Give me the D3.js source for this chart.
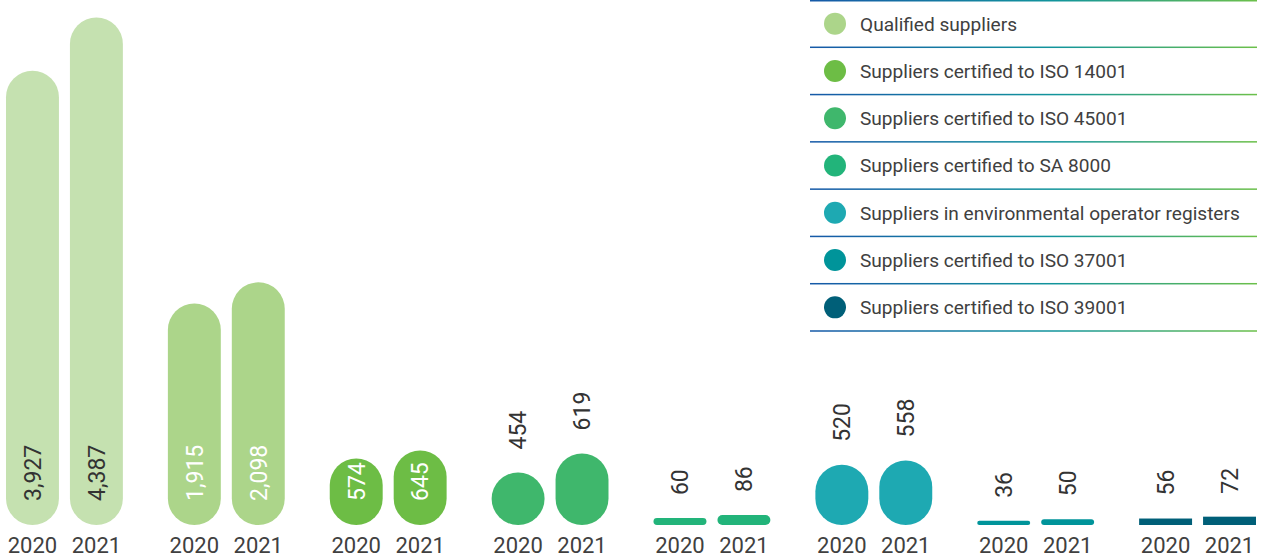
<!DOCTYPE html>
<html>
<head>
<meta charset="utf-8">
<script src="https://cdn.jsdelivr.net/npm/d3@7"></script>
<style>
  html, body { margin: 0; padding: 0; background: #ffffff; }
  svg { display: block; }
  text { font-family: Roboto, "DejaVu Sans", sans-serif; fill: #404040; }
</style>
</head>
<body>
<svg id="chart" width="1261" height="558"></svg>
<script>
// Supplier counts per category, two reporting years each
const categories = ["registered", "qualified", "iso14001", "iso45001", "sa8000", "envRegisters", "iso37001", "iso39001"];
const years = ["2020", "2021"];
const values2020 = [3927, 1915, 574, 454, 60, 520, 36, 56];
const values2021 = [4387, 2098, 645, 619, 86, 558, 50, 72];
const colors = ["#c5e1b0", "#acd58a", "#6dbd45", "#3fb76c", "#22b47a", "#1ea9b2", "#00949a", "#005f78"];

// Legend entries
const legendLabels = [
  "Qualified suppliers",
  "Suppliers certified to ISO 14001",
  "Suppliers certified to ISO 45001",
  "Suppliers certified to SA 8000",
  "Suppliers in environmental operator registers",
  "Suppliers certified to ISO 37001",
  "Suppliers certified to ISO 39001"
];
const legendColors = ["#acd58a", "#6dbd45", "#3fb76c", "#22b47a", "#1ea9b2", "#00949a", "#005f78"];

const svg = d3.select("#chart");

const x0 = d3.scaleBand().domain(categories).range([6, 1256]).paddingInner(0.278).paddingOuter(0);
const x1 = d3.scaleBand().domain(years).range([0, x0.bandwidth()]).paddingInner(0.172).paddingOuter(0);
const y = d3.scaleLinear().domain([0, 4400]).range([525, 16]);

const rows = [];
categories.forEach((c, i) => {
  rows.push({ cat: c, i, year: "2020", value: values2020[i] });
  rows.push({ cat: c, i, year: "2021", value: values2021[i] });
});

// Value labels sit inside the tall bars of the first three categories
const insideGroups = new Set(["registered", "qualified", "iso14001"]);
const squareGroups = new Set(["iso39001"]);

const g = svg.append("g");
const bw = x1.bandwidth();
const cx = d => x0(d.cat) + x1(d.year) + bw / 2;

g.selectAll("rect.bar")
  .data(rows)
  .join("rect")
  .attr("class", "bar")
  .attr("x", d => x0(d.cat) + x1(d.year))
  .attr("y", d => y(d.value))
  .attr("width", bw)
  .attr("height", d => y(0) - y(d.value))
  .attr("rx", d => squareGroups.has(d.cat) ? 0 : Math.min(bw / 2, (y(0) - y(d.value)) / 2))
  .attr("fill", d => colors[d.i]);

// Rotated value labels: inside the bar from its foot, or just above its top
const fmt = d3.format(",");
g.selectAll("text.value")
  .data(rows)
  .join("text")
  .attr("class", "value")
  .attr("transform", d => {
    const yy = insideGroups.has(d.cat) ? y(0) - 24 : y(d.value) - 23;
    return `translate(${cx(d)},${yy}) rotate(-90)`;
  })
  .attr("text-anchor", "start")
  .attr("dy", "0.36em")
  .style("font-size", "23px")
  .style("fill", d => (insideGroups.has(d.cat) && d.cat !== "registered") ? "#ffffff" : "#333333")
  .text(d => fmt(d.value));

// Year labels under each bar
g.selectAll("text.year")
  .data(rows)
  .join("text")
  .attr("class", "year")
  .attr("x", cx)
  .attr("y", 553)
  .attr("text-anchor", "middle")
  .style("font-size", "22px")
  .text(d => d.year);

// Legend
const defs = svg.append("defs");
const grad = defs.append("linearGradient").attr("id", "rule").attr("x1", "0%").attr("x2", "100%");
grad.append("stop").attr("offset", "0%").attr("stop-color", "#1659a8");
grad.append("stop").attr("offset", "55%").attr("stop-color", "#12959c");
grad.append("stop").attr("offset", "100%").attr("stop-color", "#6cc04a");

const ly = d3.scaleBand().domain(legendLabels).range([0, 331]);
const legend = svg.append("g");
const lx0 = 810, lx1 = 1257;
const textX = 860, textMaxW = 380;

legend.selectAll("rect.rule")
  .data([0].concat(legendLabels.map(l => ly(l) + ly.bandwidth())))
  .join("rect")
  .attr("class", "rule")
  .attr("x", lx0)
  .attr("y", d => Math.max(0, d - 0.75))
  .attr("width", lx1 - lx0)
  .attr("height", 1.5)
  .attr("fill", "url(#rule)");

const item = legend.selectAll("g.item")
  .data(legendLabels)
  .join("g")
  .attr("class", "item")
  .attr("transform", d => `translate(0,${ly(d) + ly.bandwidth() / 2})`);

item.append("circle")
  .attr("cx", 835)
  .attr("cy", 0)
  .attr("r", 11)
  .attr("fill", (d, i) => legendColors[i]);

const labels = item.append("text")
  .attr("x", textX)
  .attr("dy", "0.36em")
  .style("font-size", "100px")
  .text(d => d);

// Size legend text so the longest entry fits inside the legend column
const widest = d3.max(labels.nodes(), n => n.getComputedTextLength());
const legendSize = Math.min(22, 100 * textMaxW / widest);
labels.style("font-size", legendSize + "px");
</script>
</body>
</html>
